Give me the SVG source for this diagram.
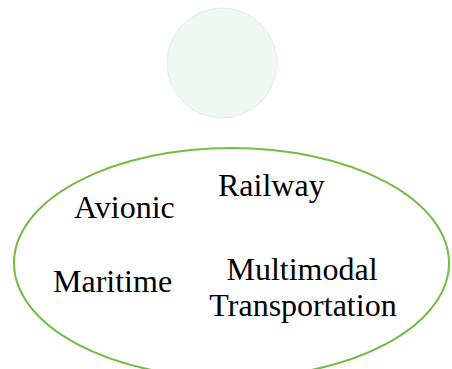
<svg xmlns="http://www.w3.org/2000/svg" width="452" height="369" viewBox="0 0 452 369">
<style>
.t{font-family:"Liberation Serif","Times New Roman",serif;font-size:32px;fill:#000}
</style>
<rect width="452" height="369" fill="#fff"/>
<g id="top-circle">
<circle cx="222" cy="63" r="55" fill="#eef9f4" stroke="#e8ebe9" stroke-width="1"/>
</g>
<g id="domain-ellipse">
<ellipse cx="231.5" cy="263" rx="217.5" ry="115" fill="none" stroke="#72bb44" stroke-width="2"/>
</g>
<g id="railway"><text class="t" x="218" y="196">Railway</text></g>
<g id="avionic"><text class="t" x="74" y="218">Avionic</text></g>
<g id="maritime"><text class="t" x="53" y="292">Maritime</text></g>
<g id="multimodal"><text class="t" x="302" y="280" text-anchor="middle">Multimodal</text><text class="t" x="303" y="316" text-anchor="middle">Transportation</text></g>
</svg>
